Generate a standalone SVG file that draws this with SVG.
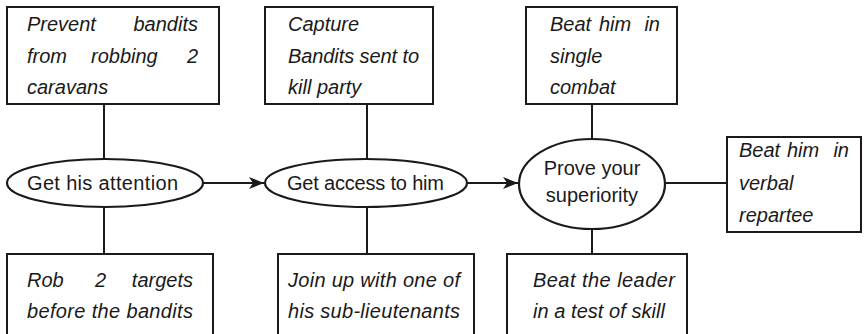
<svg xmlns="http://www.w3.org/2000/svg" width="864" height="334" viewBox="0 0 864 334">
<style>
.box{fill:#fff;stroke:#1a1a1a;stroke-width:2}
.ell{fill:#fff;stroke:#1a1a1a;stroke-width:2.2}
.ln{stroke:#1a1a1a;stroke-width:2;fill:none}
.t{font-family:"Liberation Sans",Arial,sans-serif;font-size:20px;font-style:italic;fill:#1a1a1a}
.e{font-family:"Liberation Sans",Arial,sans-serif;font-size:20px;fill:#1a1a1a}
</style>
<defs>
<marker id="ah" markerWidth="16" markerHeight="12" refX="15" refY="6" orient="auto" markerUnits="userSpaceOnUse">
<path d="M0,0 L15,6 L0,12 L4,6 Z" fill="#1a1a1a"/>
</marker>
</defs>
<g id="connectors">
<line class="ln" x1="104" y1="104" x2="104" y2="160"/>
<line class="ln" x1="104" y1="206" x2="104" y2="254"/>
<line class="ln" x1="367" y1="104" x2="367" y2="160"/>
<line class="ln" x1="367" y1="206" x2="367" y2="254"/>
<line class="ln" x1="592" y1="104" x2="592" y2="140"/>
<line class="ln" x1="592" y1="228" x2="592" y2="254"/>
<line class="ln" x1="664" y1="183" x2="727" y2="183"/>
<line class="ln" x1="203" y1="183" x2="264" y2="183" marker-end="url(#ah)"/>
<line class="ln" x1="467" y1="183" x2="518" y2="183" marker-end="url(#ah)"/>
</g>
<g id="n1">
<ellipse class="ell" cx="105" cy="183" rx="98" ry="24"/>
<text class="e" x="27" y="190" textLength="151">Get his attention</text>
</g>
<g id="n2">
<ellipse class="ell" cx="366" cy="183" rx="101" ry="24"/>
<text class="e" x="287" y="190" textLength="157">Get access to him</text>
</g>
<g id="n3">
<ellipse class="ell" cx="592" cy="184" rx="73" ry="45"/>
<text class="e" x="592" y="175" text-anchor="middle">Prove your</text>
<text class="e" x="592" y="202" text-anchor="middle">superiority</text>
</g>
<g id="b1">
<rect class="box" x="7" y="7" width="212" height="97"/>
<text class="t" x="27" y="31">Prevent</text>
<text class="t" x="198" y="31" text-anchor="end">bandits</text>
<text class="t" x="27" y="63">from</text>
<text class="t" x="91" y="63">robbing</text>
<text class="t" x="198" y="63" text-anchor="end">2</text>
<text class="t" x="27" y="94">caravans</text>
</g>
<g id="b2">
<rect class="box" x="265" y="7" width="168" height="97"/>
<text class="t" x="288" y="31">Capture</text>
<text class="t" x="288" y="63" textLength="131">Bandits sent to</text>
<text class="t" x="288" y="94">kill party</text>
</g>
<g id="b3">
<rect class="box" x="526" y="7" width="151" height="97"/>
<text class="t" x="550" y="31">Beat</text>
<text class="t" x="599" y="31">him</text>
<text class="t" x="660" y="31" text-anchor="end">in</text>
<text class="t" x="550" y="63">single</text>
<text class="t" x="550" y="94">combat</text>
</g>
<g id="b4">
<rect class="box" x="727" y="137" width="134" height="95"/>
<text class="t" x="739" y="157">Beat</text>
<text class="t" x="787" y="157">him</text>
<text class="t" x="849" y="157" text-anchor="end">in</text>
<text class="t" x="739" y="190">verbal</text>
<text class="t" x="739" y="222">repartee</text>
</g>
<g id="b5">
<rect class="box" x="7" y="254" width="206" height="90"/>
<text class="t" x="27" y="287">Rob</text>
<text class="t" x="95" y="287">2</text>
<text class="t" x="193" y="287" text-anchor="end">targets</text>
<text class="t" x="27" y="318" textLength="166">before the bandits</text>
</g>
<g id="b6">
<rect class="box" x="278" y="254" width="196" height="90"/>
<text class="t" x="288" y="287" textLength="172">Join up with one of</text>
<text class="t" x="288" y="318" textLength="172">his sub-lieutenants</text>
</g>
<g id="b7">
<rect class="box" x="507" y="254" width="180" height="90"/>
<text class="t" x="533" y="287" textLength="142">Beat the leader</text>
<text class="t" x="533" y="318" textLength="132">in a test of skill</text>
</g>
</svg>
